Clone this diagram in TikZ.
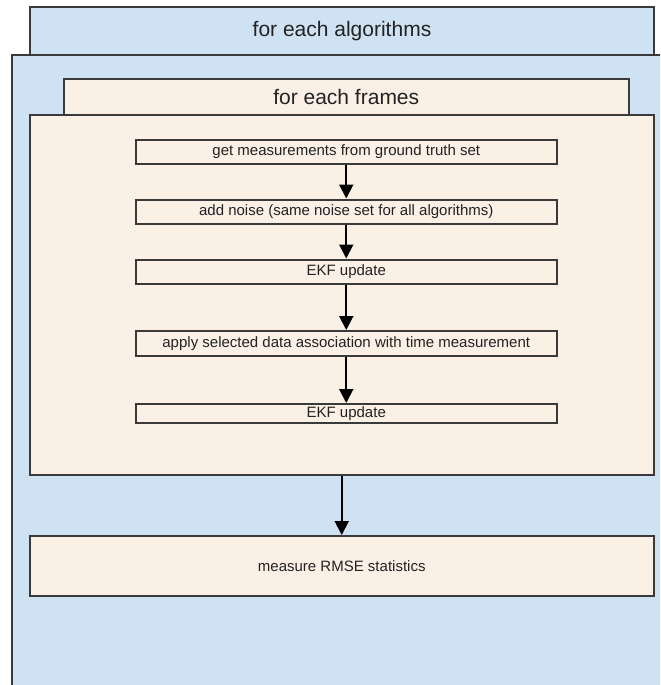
\documentclass[tikz,border=0pt]{standalone}
\usepackage{fontspec}
\setmainfont{Liberation Sans}
\usetikzlibrary{arrows.meta, positioning}
\definecolor{loopblue}{RGB}{207,226,243}
\definecolor{stepbeige}{RGB}{250,240,230}
\definecolor{framegray}{RGB}{58,58,58}
\definecolor{labelgray}{RGB}{34,34,34}

\begin{document}
\begin{tikzpicture}[x=0.5pt, y=-0.5pt,
    loopbox/.style={rectangle, draw=framegray, line width=1pt,
                    fill=loopblue, anchor=north west, inner sep=0pt},
    bodybox/.style={rectangle, draw=framegray, line width=1pt,
                    fill=stepbeige, anchor=north west, inner sep=0pt},
    headlabel/.style={font=\fontsize{10.5}{12}\selectfont, text=labelgray},
    stepbox/.style={bodybox, minimum width=210.25pt,
                    font=\fontsize{7.5}{9}\selectfont, text=labelgray},
    flow/.style={-{Triangle[length=7pt,width=7pt]}, line width=1pt, color=black},
]
\useasboundingbox (0,0) rectangle (660,685);

% ======================================================
% Outer loop: one pass per algorithm (box runs off page)
% ======================================================
\node[loopbox, headlabel, minimum width=312pt, minimum height=24pt]
     (algohead) at (29,6) {for each algorithms};
\begin{scope}
  \clip (0,0) rectangle (660,685);
  \node[loopbox, minimum width=330pt, minimum height=320pt]
       (algobody) at (10.5,54) {};
\end{scope}

% ======================================================
% Inner loop: one pass per frame
% ======================================================
\node[bodybox, headlabel, minimum width=282.25pt, minimum height=18pt]
     (framehead) at (63,78) {for each frames};
\node[bodybox, minimum width=312.25pt, minimum height=180pt]
     (framebody) at (28.5,114) {};

% steps done for every frame
\node[stepbox, minimum height=12pt]   (getmeas) at (135,138.5)
     {get measurements from ground truth set};
\node[stepbox, minimum height=12pt]   (addnoise) at (135,198.5)
     {add noise (same noise set for all algorithms)};
\node[stepbox, minimum height=12pt]   (ekfa) at (135,258.5)
     {EKF update};
\node[stepbox, minimum height=12.5pt] (assoc) at (135,330)
     {apply selected data association with time measurement};
\node[stepbox, minimum height=9.25pt] (ekfb) at (135,403)
     {EKF update};

\draw[flow] (getmeas) -- (addnoise);
\draw[flow] (addnoise) -- (ekfa);
\draw[flow] (ekfa) -- (assoc);
\draw[flow] (assoc) -- (ekfb);

% ======================================================
% After all frames: statistics
% ======================================================
\node[bodybox, minimum width=312.25pt, minimum height=30pt,
      font=\fontsize{7.5}{9}\selectfont, text=labelgray]
     (rmse) at (28.5,535) {measure RMSE statistics};

\draw[flow] (framebody) -- (rmse);

\end{tikzpicture}
\end{document}
